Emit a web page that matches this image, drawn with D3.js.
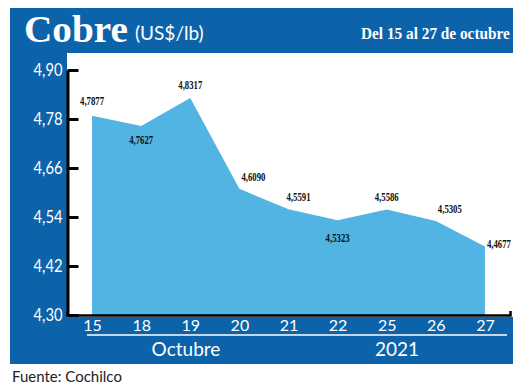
<!DOCTYPE html>
<html>
<head>
<meta charset="utf-8">
<script src="https://cdn.jsdelivr.net/npm/d3@7"></script>
<style>
  body { margin: 0; background: #fff; }
  svg { display: block; }
</style>
</head>
<body>
<svg class="chart" width="520" height="387"></svg>
<script>

// Chart data.
var days = ["15", "18", "19", "20", "21", "22", "25", "26", "27"];
var prices = [4.7877, 4.7627, 4.8317, 4.6090, 4.5591, 4.5323, 4.5586, 4.5305, 4.4677];
var priceLabels = ["4,7877", "4,7627", "4,8317", "4,6090", "4,5591", "4,5323", "4,5586", "4,5305", "4,4677"];
var yTicks = [4.30, 4.42, 4.54, 4.66, 4.78, 4.90];

// Label placement relative to each point (layout only).
var labelShift = [[0, -11], [0, 18], [0, -9], [14, -8], [10, -8], [0, 22], [0, -8], [14, -8], [14, 1]];

var blue = "#0c63aa",
    fill = "#52b4e3";

var svg = d3.select(".chart");

// Squeeze a text horizontally so it is exactly w pixels wide.
function squeeze(sel, x0, y0, w) {
  var natural = sel.node().getComputedTextLength();
  sel.attr("x", 0).attr("y", 0)
      .attr("transform", "translate(" + x0 + "," + y0 + ") scale(" + (w / natural) + ",1)");
}

// Blue frame, then white plot area.
svg.append("rect")
    .attr("x", 10).attr("y", 8)
    .attr("width", 503).attr("height", 356)
    .attr("fill", blue);

svg.append("rect")
    .attr("x", 67).attr("y", 53)
    .attr("width", 453).attr("height", 264)
    .attr("fill", "#fff");

// Scales.
var x = d3.scalePoint()
    .domain(days)
    .range([67, 510])
    .padding(0.51);

var y = d3.scaleLinear()
    .domain([4.30, 4.90])
    .range([315, 70]);

// Area.
var area = d3.area()
    .x(function(d, i) { return x(days[i]); })
    .y0(y(4.30))
    .y1(function(d) { return y(d); });

svg.append("path")
    .datum(prices)
    .attr("d", area)
    .attr("fill", fill);

// Value labels.
svg.selectAll(".value")
    .data(prices)
  .enter().append("text")
    .attr("class", "value")
    .attr("x", function(d, i) { return x(days[i]) + labelShift[i][0]; })
    .attr("y", function(d, i) { return y(d) + labelShift[i][1]; })
    .attr("text-anchor", "middle")
    .attr("font-family", "Liberation Serif")
    .attr("font-weight", "bold")
    .attr("font-size", 12)
    .attr("textLength", 24)
    .attr("lengthAdjust", "spacingAndGlyphs")
    .attr("fill", "#111")
    .text(function(d, i) { return priceLabels[i]; });

// Y axis.
var yAxis = svg.append("g")
    .attr("transform", "translate(67.5,0)")
    .call(d3.axisLeft(y)
      .tickValues(yTicks)
      .tickSizeInner(-11)
      .tickSizeOuter(0)
      .tickPadding(5)
      .tickFormat(function(d) { return d3.format(".2f")(d).replace(".", ","); }));

yAxis.select(".domain").attr("stroke", "#000").attr("stroke-width", 3);
yAxis.selectAll(".tick line").attr("stroke", "#000").attr("stroke-width", 3);
yAxis.selectAll(".tick text")
    .attr("fill", "#fff")
    .attr("font-family", "Lato")
    .attr("font-size", 18)
    .attr("textLength", 29)
    .attr("lengthAdjust", "spacingAndGlyphs");

// X axis.
var xAxis = svg.append("g")
    .attr("transform", "translate(0,315)")
    .call(d3.axisBottom(x)
      .tickSizeInner(0)
      .tickSizeOuter(-4)
      .tickPadding(5));

xAxis.select(".domain").attr("stroke", "#000").attr("stroke-width", 2.5);
xAxis.selectAll(".tick text")
    .attr("fill", "#fff")
    .attr("font-family", "Lato")
    .attr("font-size", 16);

// Month / year band.
svg.append("line")
    .attr("x1", 87).attr("x2", 507)
    .attr("y1", 335).attr("y2", 335)
    .attr("stroke", "#fff")
    .attr("stroke-width", 1.5);

svg.append("text")
    .attr("x", 186).attr("y", 356)
    .attr("text-anchor", "middle")
    .attr("fill", "#fff")
    .attr("font-family", "Lato")
    .attr("font-size", 19)
    .text("Octubre");

svg.append("text")
    .attr("x", 397).attr("y", 356)
    .attr("text-anchor", "middle")
    .attr("fill", "#fff")
    .attr("font-family", "Lato")
    .attr("font-size", 19)
    .text("2021");

// Header.
var title = svg.append("text")
    .attr("fill", "#fff")
    .attr("font-family", "Liberation Serif")
    .attr("font-weight", "bold")
    .attr("font-size", 38)
    .text("Cobre");
squeeze(title, 24, 42, 104);

svg.append("text")
    .attr("x", 135).attr("y", 40)
    .attr("fill", "#fff")
    .attr("font-family", "Lato")
    .attr("font-size", 19)
    .text("(US$/lb)");

var period = svg.append("text")
    .attr("fill", "#fff")
    .attr("font-family", "Liberation Serif")
    .attr("font-weight", "bold")
    .attr("font-size", 17)
    .text("Del 15 al 27 de octubre");
squeeze(period, 361, 39, 149);

// Source.
svg.append("text")
    .attr("x", 12).attr("y", 382)
    .attr("fill", "#222")
    .attr("font-family", "Lato")
    .attr("font-size", 15)
    .text("Fuente: Cochilco");

</script>
</body>
</html>
